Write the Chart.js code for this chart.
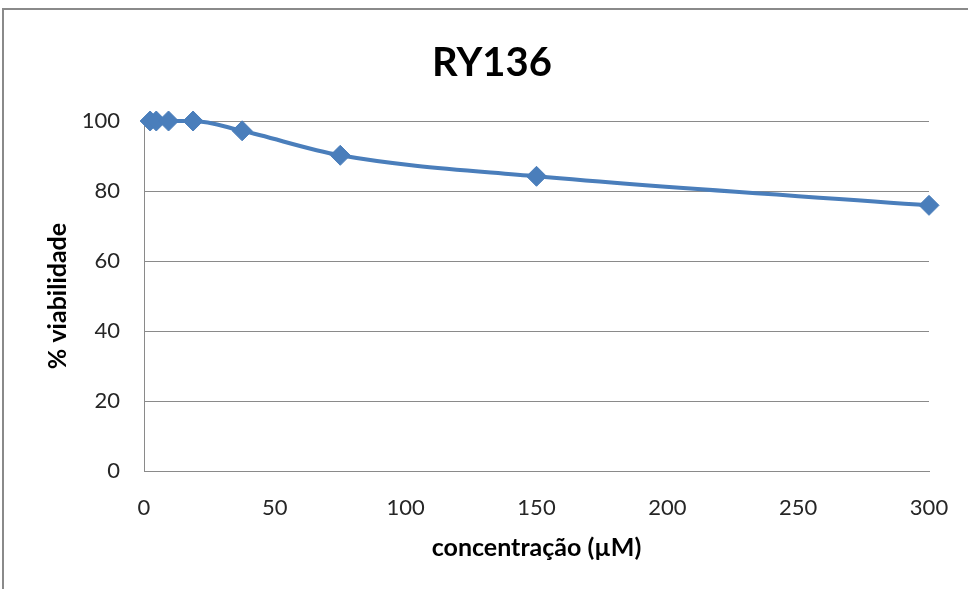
<!DOCTYPE html>
<html>
<head>
<meta charset="utf-8">
<title>RY136</title>
<script src="https://cdn.jsdelivr.net/npm/chart.js@4/dist/chart.umd.min.js"></script>
<style>
  html, body { margin: 0; padding: 0; background: #ffffff; overflow: hidden; }
  #wrap { position: relative; width: 968px; height: 589px; }
  #frame {
    position: absolute; left: 2px; top: 8px; right: -20px; bottom: -20px;
    border-top: 2px solid #8a8a8a; border-left: 2px solid #8a8a8a;
    pointer-events: none;
  }
  canvas { position: absolute; left: 0; top: 0; }
</style>
</head>
<body>
<div id="wrap">
  <canvas id="chart" width="968" height="589"></canvas>
  <div id="frame"></div>
</div>
<script>
// Cell viability of RY136 versus concentration
const concentrations = [2.34, 4.69, 9.38, 18.75, 37.5, 75, 150, 300];
const viability = [100, 100, 100, 100, 97.2, 90.2, 84.2, 75.9];
const xTicks = [0, 50, 100, 150, 200, 250, 300];
const yTicks = [0, 20, 40, 60, 80, 100];

const chartTitle = 'RY136';
const xTitle = 'concentração (µM)';
const yTitle = '% viabilidade';

const blue = '#4a7ebb';
const gridGray = '#8a8a8a';

const points = concentrations.map((c, i) => ({ x: c, y: viability[i] }));

new Chart(document.getElementById('chart'), {
  type: 'scatter',
  data: {
    datasets: [{
      data: points,
      showLine: true,
      borderColor: blue,
      backgroundColor: blue,
      borderWidth: 4,
      cubicInterpolationMode: 'monotone',
      pointStyle: 'rectRot',
      pointRadius: 10,
      pointHoverRadius: 10,
      pointBorderWidth: 1,
      pointBorderColor: blue,
      pointBackgroundColor: blue,
      clip: false
    }]
  },
  options: {
    responsive: false,
    animation: false,
    devicePixelRatio: 1,
    layout: { padding: { left: 55, right: 39, top: 0, bottom: 0 } },
    plugins: {
      legend: { display: false },
      tooltip: { enabled: false },
      title: {
        display: true,
        text: chartTitle,
        color: '#000000',
        font: { family: 'Lato', size: 40, weight: 'bold', lineHeight: 1.2 },
        padding: { top: 39, bottom: 34 }
      }
    },
    scales: {
      x: {
        type: 'linear',
        min: xTicks[0],
        max: xTicks[xTicks.length - 1],
        afterBuildTicks: (s) => { s.ticks = xTicks.map(v => ({ value: v })); },
        afterFit: (s) => { s.height = 118; s.paddingLeft = 0; s.paddingRight = 0; },
        grid: { display: false, drawTicks: false },
        border: { display: true, color: gridGray, width: 1 },
        ticks: {
          padding: 24,
          color: '#262626',
          font: { family: 'Lato', size: 22 },
          maxRotation: 0
        },
        title: {
          display: true,
          text: xTitle,
          color: '#000000',
          font: { family: 'Lato', size: 25, weight: 'bold', lineHeight: 1.2 },
          padding: { top: 0, bottom: 26 }
        }
      },
      y: {
        type: 'linear',
        min: yTicks[0],
        max: yTicks[yTicks.length - 1],
        afterBuildTicks: (s) => { s.ticks = yTicks.map(v => ({ value: v })); },
        afterFit: (s) => { s.width = 89; },
        grid: { color: gridGray, lineWidth: 1, drawTicks: false },
        border: { display: true, color: gridGray, width: 1 },
        ticks: {
          padding: 24,
          color: '#262626',
          font: { family: 'Lato', size: 22 }
        },
        title: {
          display: true,
          text: yTitle,
          color: '#000000',
          font: { family: 'Lato', size: 25, weight: 'bold', lineHeight: 1.2 },
          padding: { top: -12, bottom: 0 }
        }
      }
    }
  }
});
</script>
</body>
</html>
